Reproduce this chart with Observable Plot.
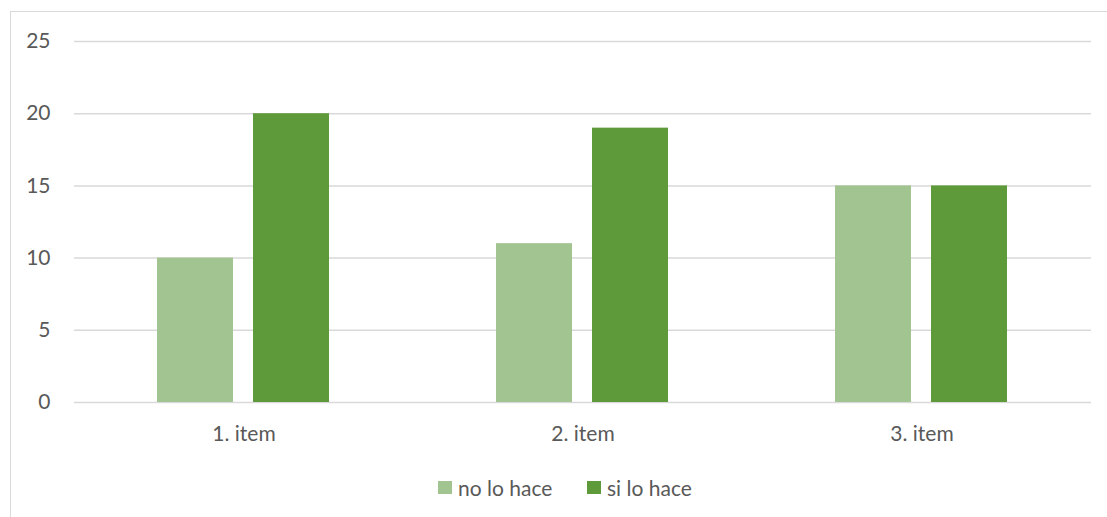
<!DOCTYPE html>
<html>
<head>
<meta charset="utf-8">
<script src="https://cdn.jsdelivr.net/npm/d3@7"></script>
<script src="https://cdn.jsdelivr.net/npm/@observablehq/plot@0.6"></script>
<style>
  html, body { margin: 0; padding: 0; background: #fff; overflow: hidden; width: 1107px; height: 517px; }
  #frame { position: absolute; left: 10px; top: 11px; width: 1120px; height: 530px; border: 1.5px solid #d9d9d9; box-sizing: border-box; }
  #chart { position: absolute; left: 0; top: 0; }
  #legend { position: absolute; top: 475px; left: 0; width: 1107px; font-family: Lato, "Open Sans", sans-serif; font-size: 21px; color: #595959; }
  .item { position: absolute; display: flex; align-items: center; }
  .sw { width: 14px; height: 13px; margin-right: 6px; }
</style>
</head>
<body>
<div id="frame"></div>
<div id="chart"></div>
<div id="legend"></div>
<script>
const categories = ["1. item", "2. item", "3. item"];
const seriesNames = ["no lo hace", "si lo hace"];
const noLoHace = [10, 11, 15];
const siLoHace = [20, 19, 15];
const colors = ["#a1c490", "#5f9a3a"];
const yTicks = [0, 5, 10, 15, 20, 25];

const data = [];
categories.forEach((c, i) => {
  data.push({cat: c, series: seriesNames[0], value: noLoHace[i]});
  data.push({cat: c, series: seriesNames[1], value: siLoHace[i]});
});

const chart = Plot.plot({
  width: 1107,
  height: 460,
  marginLeft: 74,
  marginRight: 16,
  marginTop: 41,
  marginBottom: 58,
  style: {fontFamily: "Lato, 'Open Sans', sans-serif", fontSize: "21px", color: "#595959", background: "transparent"},
  fx: {domain: categories, paddingInner: 0, paddingOuter: 0, label: null},
  x: {domain: seriesNames, paddingInner: 0.2083, paddingOuter: 0.866, axis: null},
  y: {domain: [0, 25], label: null},
  color: {domain: seriesNames, range: colors},
  marks: [
    Plot.ruleY(yTicks, {stroke: "#d9d9d9", strokeWidth: 1.5}),
    Plot.barY(data, {fx: "cat", x: "series", y: "value", fill: "series"}),
    Plot.axisY({ticks: yTicks, tickSize: 0, tickPadding: 24, label: null, fill: "#595959"}),
    Plot.axisFx({anchor: "bottom", tickSize: 0, tickPadding: 24, label: null, fill: "#595959"})
  ]
});
document.getElementById("chart").appendChild(chart);

const legend = document.getElementById("legend");
const positions = [438, 587];
seriesNames.forEach((s, i) => {
  const it = document.createElement("div");
  it.className = "item";
  it.style.left = positions[i] + "px";
  const sw = document.createElement("div");
  sw.className = "sw";
  sw.style.background = colors[i];
  const t = document.createElement("span");
  t.textContent = s;
  it.appendChild(sw);
  it.appendChild(t);
  legend.appendChild(it);
});
</script>
</body>
</html>
